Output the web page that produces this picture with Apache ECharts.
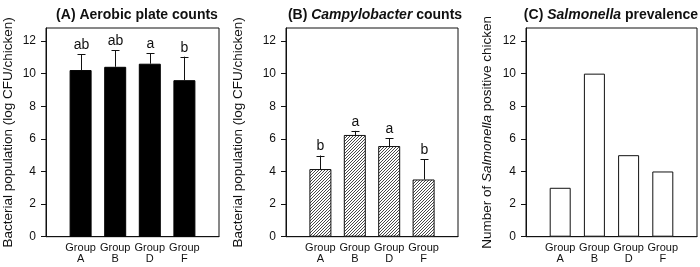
<!DOCTYPE html>
<html>
<head>
<meta charset="utf-8">
<script src="https://cdn.jsdelivr.net/npm/echarts@6/dist/echarts.min.js"></script>
<style>
  html, body { margin: 0; padding: 0; background: #fff; }
  #chart { width: 700px; height: 267px; }
</style>
</head>
<body>
<div id="chart"></div>
<script>
  // data
  var groups = ['A', 'B', 'D', 'F'];
  var aerobicMean = [10.22, 10.42, 10.61, 9.6];
  var aerobicErr = [0.96, 1.01, 0.65, 1.44];
  var aerobicLetters = ['ab', 'ab', 'a', 'b'];
  var campyMean = [4.15, 6.24, 5.56, 3.51];
  var campyErr = [0.83, 0.25, 0.47, 1.25];
  var campyLetters = ['b', 'a', 'a', 'b'];
  var salmonellaCount = [3, 10, 5, 4];
  var yTicks = [0, 2, 4, 6, 8, 10, 12];

  var FONT = '"Liberation Sans", Arial, sans-serif';
  var INK = '#111';

  // diagonal hatch for panel B
  var hatch = document.createElement('canvas');
  hatch.width = 3; hatch.height = 3;
  var ctx = hatch.getContext('2d');
  ctx.fillStyle = '#fff';
  ctx.fillRect(0, 0, 3, 3);
  ctx.strokeStyle = '#333';
  ctx.lineWidth = 0.9;
  ctx.beginPath();
  ctx.moveTo(0, 3); ctx.lineTo(3, 0);
  ctx.moveTo(-1, 1); ctx.lineTo(1, -1);
  ctx.moveTo(2, 4); ctx.lineTo(4, 2);
  ctx.stroke();

  var myChart = echarts.init(document.getElementById('chart'));

  var grids = [
    { left: 46, width: 173, top: 28, bottom: 30.3 },
    { left: 286, width: 172, top: 28, bottom: 30.3 },
    { left: 526, width: 172.5, top: 28, bottom: 30.3 }
  ];

  function xAxisFor(i) {
    return {
      type: 'value', gridIndex: i, min: 0, max: 5, interval: 1,
      axisLine: { show: true, onZero: false, lineStyle: { color: INK, width: 1 } },
      axisTick: { show: false },
      splitLine: { show: false },
      axisLabel: {
        color: INK, fontFamily: FONT, fontSize: 11, lineHeight: 11, margin: 6,
        formatter: function (v) {
          var g = groups[v - 1];
          return g ? 'Group\n' + g : '';
        }
      }
    };
  }

  function yAxisFor(i, name, rich, gap) {
    return {
      type: 'value', gridIndex: i, min: 0, max: 12.8,
      name: name, nameLocation: 'middle', nameGap: gap,
      nameTextStyle: { color: INK, fontFamily: FONT, fontSize: 13.5, rich: rich },
      axisLine: { show: true, lineStyle: { color: INK, width: 1 } },
      axisTick: { show: true, length: 5, lineStyle: { color: INK }, customValues: yTicks },
      axisLabel: { color: INK, fontFamily: FONT, fontSize: 12, margin: 10, customValues: yTicks },
      splitLine: { show: false }
    };
  }

  function pairs(vals) {
    return vals.map(function (v, i) { return [i + 1, v]; });
  }

  function errSeries(idx, mean, err, letters) {
    return {
      type: 'custom', xAxisIndex: idx, yAxisIndex: idx, z: 5,
      data: mean.map(function (m, i) { return [i + 1, m, err[i], i]; }),
      renderItem: function (params, api) {
        var x = api.value(0), m = api.value(1), e = api.value(2);
        var p0 = api.coord([x, m]);
        var p1 = api.coord([x, m + e]);
        var cx = Math.round(p0[0]) + 0.5;
        return {
          type: 'group',
          children: [
            { type: 'line', shape: { x1: cx, y1: p0[1], x2: cx, y2: p1[1] },
              style: { stroke: INK, lineWidth: 1 } },
            { type: 'line', shape: { x1: cx - 4, y1: Math.round(p1[1]) + 0.5, x2: cx + 4, y2: Math.round(p1[1]) + 0.5 },
              style: { stroke: INK, lineWidth: 1 } },
            { type: 'text', x: cx, y: p1[1] - 2,
              style: { text: letters[api.value(3)], fill: INK, font: '14px ' + FONT,
                       align: 'center', verticalAlign: 'bottom' } }
          ]
        };
      }
    };
  }

  var titleStyle = { fontFamily: FONT, fontSize: 14, fontWeight: 'bold', color: INK };
  var italicRich = {
    n: { fontFamily: FONT, fontSize: 14, fontWeight: 'bold', color: INK },
    i: { fontFamily: FONT, fontSize: 14, fontWeight: 'bold', fontStyle: 'italic', color: INK }
  };

  var option = {
    backgroundColor: '#fff',
    animation: false,
    title: [
      { text: '(A) Aerobic plate counts', left: 132, top: 3, textAlign: 'center', textStyle: titleStyle },
      { text: '{n|(B) }{i|Campylobacter}{n| counts}', left: 370, top: 3, textAlign: 'center',
        textStyle: { rich: italicRich } },
      { text: '{n|(C) }{i|Salmonella}{n| prevalence}', left: 606, top: 3, textAlign: 'center',
        textStyle: { rich: italicRich } }
    ],
    grid: grids.map(function (g) {
      return Object.assign({ show: true, borderColor: INK, borderWidth: 1, backgroundColor: 'transparent' }, g);
    }),
    xAxis: [xAxisFor(0), xAxisFor(1), xAxisFor(2)],
    yAxis: [
      yAxisFor(0, 'Bacterial population (log CFU/chicken)', {}, 31),
      yAxisFor(1, 'Bacterial population (log CFU/chicken)', {}, 41),
      yAxisFor(2, '{n|Number of }{i|Salmonella}{n| positive chicken}', {
        n: { fontFamily: FONT, fontSize: 13.5, color: INK },
        i: { fontFamily: FONT, fontSize: 13.5, fontStyle: 'italic', color: INK }
      }, 32)
    ],
    series: [
      { type: 'bar', xAxisIndex: 0, yAxisIndex: 0, barWidth: 22, data: pairs(aerobicMean),
        itemStyle: { color: '#000', borderColor: '#000', borderWidth: 1 } },
      errSeries(0, aerobicMean, aerobicErr, aerobicLetters),
      { type: 'bar', xAxisIndex: 1, yAxisIndex: 1, barWidth: 22, data: pairs(campyMean),
        itemStyle: { color: { image: hatch, repeat: 'repeat' }, borderColor: INK, borderWidth: 1 } },
      errSeries(1, campyMean, campyErr, campyLetters),
      { type: 'bar', xAxisIndex: 2, yAxisIndex: 2, barWidth: 21, data: pairs(salmonellaCount),
        itemStyle: { color: '#fff', borderColor: INK, borderWidth: 1 } }
    ]
  };
  myChart.setOption(option);
</script>
</body>
</html>
